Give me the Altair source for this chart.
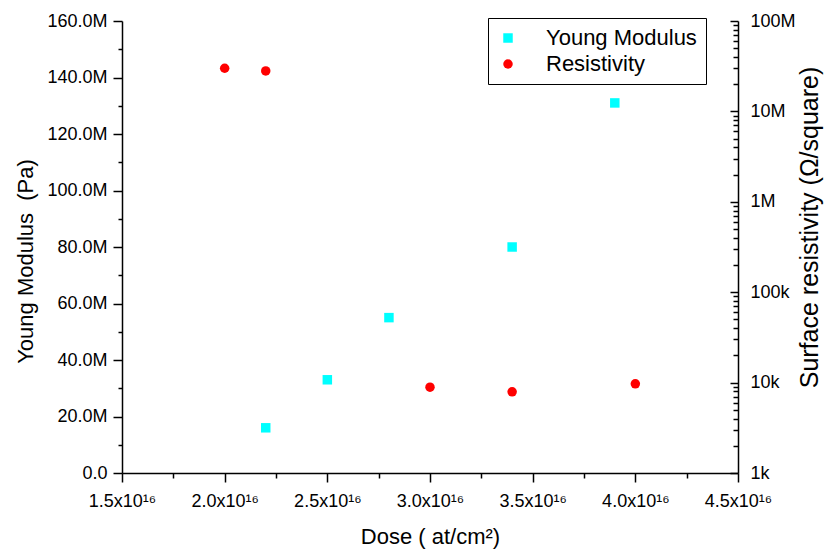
import altair as alt
import pandas as pd

# ---- data ----
dose_ym = [2.2e16, 2.5e16, 2.8e16, 3.4e16, 3.9e16]
young_modulus = [16.0e6, 33.0e6, 55.0e6, 80.0e6, 131.0e6]

dose_res = [2.0e16, 2.2e16, 3.0e16, 3.4e16, 4.0e16]
resistivity = [30.0e6, 28.0e6, 8.9e3, 7.9e3, 9.7e3]

series_names = ["Young Modulus", "Resistivity"]
series_colors = ["#00FFFF", "#FF0000"]
series_shapes = ["square", "circle"]

x_ticks = [1.5e16, 1.75e16, 2.0e16, 2.25e16, 2.5e16, 2.75e16, 3.0e16, 3.25e16,
           3.5e16, 3.75e16, 4.0e16, 4.25e16, 4.5e16]
ym_ticks = [0, 10e6, 20e6, 30e6, 40e6, 50e6, 60e6, 70e6, 80e6, 90e6, 100e6,
            110e6, 120e6, 130e6, 140e6, 150e6, 160e6]
res_decades = [1e3, 1e4, 1e5, 1e6, 1e7, 1e8]
res_decade_labels = ["1k", "10k", "100k", "1M", "10M", "100M"]
res_minor = [m * d for d in [1e3, 1e4, 1e5, 1e6, 1e7] for m in range(2, 10)]

W, H = 616, 452
FONT = "Liberation Sans"

df_ym = pd.DataFrame({"dose": dose_ym, "value": young_modulus, "series": series_names[0]})
df_res = pd.DataFrame({"dose": dose_res, "value": resistivity, "series": series_names[1]})

res_label_expr = " : ".join(
    f"datum.value == {v:g} ? '{lab}'" for v, lab in zip(res_decades[:-1], res_decade_labels[:-1])
) + f" : '{res_decade_labels[-1]}'"

x_enc = alt.X(
    "dose:Q",
    scale=alt.Scale(domain=[1.5e16, 4.5e16], nice=False, zero=False),
    axis=alt.Axis(
        values=x_ticks,
        title="Dose ( at/cm\u00b2)",
        labelExpr="round(datum.value/2.5e15) % 2 == 0 ? format(datum.value/1e16, '.1f') + 'x10\u00b9\u2076' : ''",
        tickSize={"condition": {"test": "round(datum.value/2.5e15) % 2 == 0", "value": 9}, "value": 5},
        labelPadding=10,
        titlePadding=16,
        titleFontSize=22,
        grid=False,
        labelFlush=False,
        labelOverlap=False,
    ),
)

color_enc = alt.Color(
    "series:N",
    scale=alt.Scale(domain=series_names, range=series_colors),
    legend=alt.Legend(
        title=None,
        orient="none",
        legendX=366,
        legendY=-3,
        strokeColor="black",
        fillColor="white",
        padding=9,
        labelFontSize=22,
        labelOffset=27,
        rowPadding=4,
        symbolSize=90,
        symbolStrokeWidth=0,
    ),
)
shape_enc = alt.Shape("series:N", scale=alt.Scale(domain=series_names, range=series_shapes), legend=None)

ym_layer = alt.Chart(df_ym).mark_point(filled=True, size=90, opacity=1).encode(
    x=x_enc,
    y=alt.Y(
        "value:Q",
        scale=alt.Scale(domain=[0, 160e6], nice=False),
        axis=alt.Axis(
            orient="left",
            values=ym_ticks,
            title="Young Modulus\u00a0 (Pa)",
            labelExpr="datum.value == 0 ? '0.0' : (round(datum.value/1e7) % 2 == 0 ? format(datum.value/1e6, '.1f') + 'M' : '')",
            tickSize={"condition": {"test": "round(datum.value/1e7) % 2 == 0", "value": 9}, "value": 4},
            labelPadding=6,
            titleFontSize=22,
            titleX=-97,
            titleY=240,
            titleBaseline="middle",
            grid=False,
            labelFlush=False,
            labelOverlap=False,
        ),
    ),
    color=color_enc,
    shape=shape_enc,
)

res_layer = alt.Chart(df_res).mark_point(filled=True, size=90, opacity=1).encode(
    x=x_enc,
    y=alt.Y(
        "value:Q",
        scale=alt.Scale(type="log", domain=[1e3, 1e8], nice=False),
        axis=alt.Axis(
            orient="right",
            values=res_decades,
            title="Surface resistivity (\u03a9/square)",
            labelExpr=res_label_expr,
            ticks=False,
            domain=False,
            labelPadding=12,
            titleFontSize=25,
            titleAngle=270,
            titleX=71,
            titleY=206,
            titleBaseline="middle",
            grid=False,
            labelFlush=False,
            labelOverlap=False,
        ),
    ),
    color=color_enc,
    shape=shape_enc,
)

# inward ticks and axis line of the right (log) axis
res_tick_layer = alt.Chart(df_res).mark_point(opacity=0).encode(
    x=x_enc,
    y=alt.Y(
        "value:Q",
        scale=alt.Scale(type="log", domain=[1e3, 1e8], nice=False),
        axis=alt.Axis(
            orient="left",
            offset=-W,
            values=res_decades + res_minor,
            labels=False,
            title=None,
            tickSize={"condition": {"test": "indexof([1e3,1e4,1e5,1e6,1e7,1e8], datum.value) >= 0", "value": 8}, "value": 5},
            grid=False,
        ),
    ),
)

chart = (
    alt.layer(ym_layer, res_layer, res_tick_layer)
    .resolve_scale(y="independent")
    .properties(
        width=W,
        height=H,
        autosize=alt.AutoSizeParams(type="none"),
        padding={"left": 122, "top": 21, "right": 824 - 122 - W, "bottom": 556 - 21 - H},
    )
    .configure_view(stroke="transparent")
    .configure_axis(
        labelFont=FONT,
        titleFont=FONT,
        labelFontSize=18,
        titleFontSize=22,
        titleFontWeight="normal",
        labelColor="black",
        titleColor="black",
        domainColor="black",
        tickColor="black",
        domainWidth=1.5,
        tickWidth=1.5,
    )
    .configure_legend(labelFont=FONT, labelColor="black")
)

chart.save("out.html", embed_options={"renderer": "svg", "actions": False})
